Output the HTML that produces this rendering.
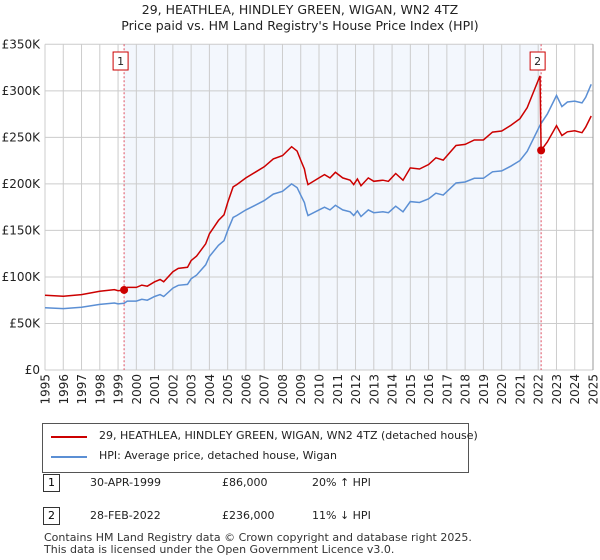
<!DOCTYPE html>
<html><head><meta charset="utf-8"><style>
body{margin:0;background:#fff;font-family:"DejaVu Sans","Liberation Sans",sans-serif;}
#wrap{position:relative;width:600px;height:560px;overflow:hidden}
.t{position:absolute;font-size:12px;color:#222;white-space:nowrap}
svg text{font-family:"DejaVu Sans","Liberation Sans",sans-serif}
</style></head><body><div id="wrap">
<svg id="chart" width="600" height="560" style="position:absolute;left:0;top:0"></svg>
</div>
<script>
const years=[1995,1996,1997,1998,1998.8,1999,1999.33,1999.5,2000,2000.3,2000.6,2001,2001.3,2001.5,2002,2002.3,2002.8,2003,2003.3,2003.8,2004,2004.5,2004.8,2005,2005.3,2005.5,2006,2006.5,2007,2007.5,2008,2008.5,2008.8,2009,2009.2,2009.3,2009.4,2010,2010.3,2010.6,2010.9,2011.3,2011.7,2011.9,2012.1,2012.3,2012.7,2013,2013.5,2013.8,2014.2,2014.6,2015,2015.5,2016,2016.4,2016.8,2017.5,2018,2018.5,2019,2019.5,2020,2020.5,2021,2021.4,2022.1,2022.16,2022.5,2023,2023.3,2023.6,2024,2024.4,2024.6,2024.9];
const hpi=[67,66,67.5,70.5,72,71,71.7,74,74,76,75,79,81,79,88,91,92,98,102,113,122,134,139,150,164,166,172,177,182,189,192,200,196,188,180,172,166,172,175,172,177,172,170,166,171,165,172,169,170,169,176,170,181,180,184,190,188,201,202,206,206,213,214,219,225,235,263,265,275,295,283,288,289,287,293,307];
const red=[80.4,79.2,81,84.6,86.4,85.2,86,88.8,88.8,91.2,90,94.8,97.2,94.8,105.6,109.2,110.4,117.6,122.4,135.6,146.4,160.8,166.8,180,196.8,199.2,206.4,212.4,218.4,226.8,230.4,240,235.2,225.6,216,206.4,199.2,206.4,210,206.4,212.4,206.4,204,199.2,205.2,198,206.4,202.8,204,202.8,211.2,204,217.2,216,220.8,228,225.6,241.2,242.4,247.2,247.2,255.6,256.8,262.8,270,282,316,236,245,262.5,252,256,257,255,261,273];
const sales=[[1999.33,86,"1"],[2022.16,236,"2"]];
const yTicks=[0,50,100,150,200,250,300,350];
const yTickLabels=["£0","£50K","£100K","£150K","£200K","£250K","£300K","£350K"];
const xTicks=[1995,1996,1997,1998,1999,2000,2001,2002,2003,2004,2005,2006,2007,2008,2009,2010,2011,2012,2013,2014,2015,2016,2017,2018,2019,2020,2021,2022,2023,2024,2025];
const L=45,R=593,T=44.3,B=370;
const X=v=>L+(v-1995)*(R-L)/30, Y=v=>B-v*(B-T)/350;
const svg=document.getElementById('chart');const NS="http://www.w3.org/2000/svg";
function mk(tag,at,parent){const e=document.createElementNS(NS,tag);for(const k in at)e.setAttribute(k,at[k]);(parent||svg).appendChild(e);return e;}
let e;
e=mk('rect',{x:X(sales[0][0]),y:T,width:X(sales[1][0])-X(sales[0][0]),height:B-T,fill:'#eef3fc',opacity:0.7});

xTicks.forEach((v,i)=>{const g=mk('line',{x1:X(v),x2:X(v),y1:T,y2:B,stroke:'#ccc','stroke-width':1});
const t=mk('text',{x:0,y:0,transform:`translate(${X(v)+4.5},${B+4}) rotate(-90)`,'text-anchor':'end','font-size':12,fill:'#222'});t.textContent=v;});
yTicks.forEach((v,i)=>{const g=mk('line',{x1:L,x2:R,y1:Y(v),y2:Y(v),stroke:'#ccc','stroke-width':1});
const t=mk('text',{x:L-5,y:Y(v)+4,'text-anchor':'end','font-size':12,fill:'#222'});t.textContent=yTickLabels[i];});
sales.forEach(s=>{const l=mk('line',{x1:X(s[0]),x2:X(s[0]),y1:T,y2:B,stroke:'#e05060','stroke-width':1,'stroke-dasharray':'2,2'});
const r=mk('rect',{x:X(s[0])-11,y:52,width:15,height:18,fill:'#fff',stroke:'#c00'});
const t=mk('text',{x:X(s[0])-3.5,y:65,'text-anchor':'middle','font-size':11,fill:'#222'});t.textContent=s[2];});
const pl=(arr)=>years.map((y,i)=>X(y).toFixed(1)+','+Y(arr[i]).toFixed(1)).join(' ');
e=mk('polyline',{points:pl(hpi),fill:'none',stroke:'#5b8fd4','stroke-width':1.5});
e=mk('polyline',{points:pl(red),fill:'none',stroke:'#cc0000','stroke-width':1.5});
sales.forEach(s=>{const c=mk('circle',{cx:X(s[0]),cy:Y(s[1]),r:4,fill:'#cc0000'});});
e=mk('line',{x1:R,x2:R,y1:T,y2:B,stroke:'#999'});
</script>
<div class="t" style="left:0;width:600px;top:2px;text-align:center;font-size:12.5px;line-height:16px">29, HEATHLEA, HINDLEY GREEN, WIGAN, WN2 4TZ<br>Price paid vs. HM Land Registry's House Price Index (HPI)</div>
<div style="position:absolute;left:42px;top:423px;width:425px;height:48px;border:1px solid #555;background:#fff">
<div style="position:absolute;left:8px;top:12px;width:36px;height:2px;background:#cc0000"></div>
<div class="t" style="left:56px;top:5px;font-size:11px">29, HEATHLEA, HINDLEY GREEN, WIGAN, WN2 4TZ (detached house)</div>
<div style="position:absolute;left:8px;top:32px;width:36px;height:2px;background:#5b8fd4"></div>
<div class="t" style="left:56px;top:25px;font-size:11px">HPI: Average price, detached house, Wigan</div>
</div>
<div style="position:absolute;left:43px;top:474px;width:15px;height:16px;border:1px solid #333;font-size:11px;text-align:center;line-height:16px">1</div>
<div class="t" style="left:90px;top:476px;font-size:11px">30-APR-1999</div>
<div class="t" style="left:222px;top:476px;font-size:11px">£86,000</div>
<div class="t" style="left:312px;top:476px;font-size:11px">20% ↑ HPI</div>
<div style="position:absolute;left:43px;top:507px;width:15px;height:16px;border:1px solid #333;font-size:11px;text-align:center;line-height:16px">2</div>
<div class="t" style="left:90px;top:509px;font-size:11px">28-FEB-2022</div>
<div class="t" style="left:222px;top:509px;font-size:11px">£236,000</div>
<div class="t" style="left:312px;top:509px;font-size:11px">11% ↓ HPI</div>
<div class="t" style="left:44px;top:532px;font-size:11px;line-height:12px;color:#333">Contains HM Land Registry data © Crown copyright and database right 2025.<br>This data is licensed under the Open Government Licence v3.0.</div>
</body></html>
